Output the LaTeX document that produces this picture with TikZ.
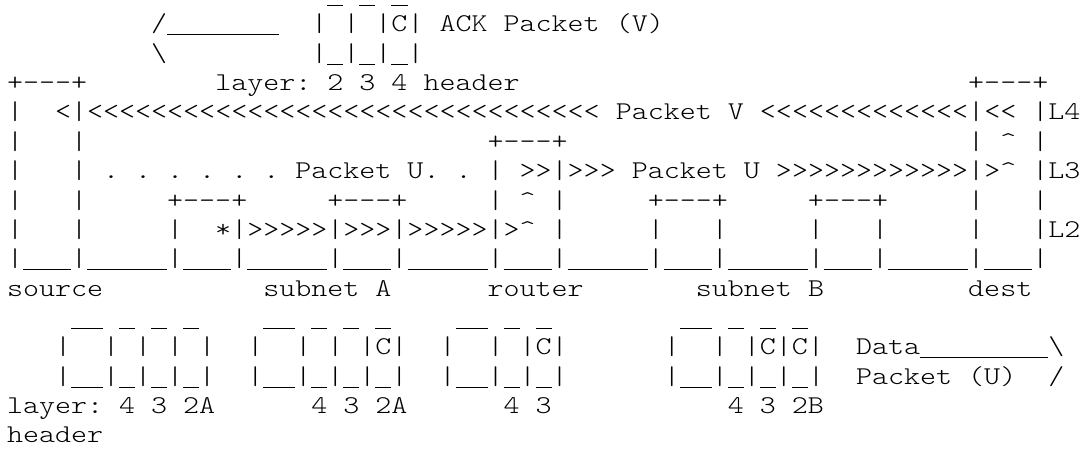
\documentclass[tikz,border=0pt]{standalone}
\usepackage{fontspec}
\newfontfamily\asciifont{lmmonolt10-regular.otf}[FakeStretch=1.192]
\usepackage{tikz}
\usetikzlibrary{math}
\tikzset{%
  ascii/.style={anchor=base west, inner sep=0pt, outer sep=0pt,
    font=\asciifont\fontsize{12.8pt}{16pt}\selectfont\frenchspacing}
}
% n blank columns of the monospaced grid
\newcommand*{\gap}[1]{\hspace*{#1\fontcharwd\font`M}}
% one underscore cell, drawn full width
\newcommand*{\us}{\rule[-1.7pt]{\fontcharwd\font`M}{0.5pt}}

\begin{document}
\begin{tikzpicture}[x=0.5pt,y=-0.5pt]
    \tikzmath{
      \cw=16.02;% column width
      \lh=29.36;% line height
      \xo=7;% left margin
      \yo=2.5;% first baseline
    }
    \useasboundingbox (0,0) rectangle (1087,450);
    % ACK packet (V).
    \node[ascii] (ackTop) at (\xo+20*\cw,\yo) {\us~\us~\us};
    \node[ascii] (ackMid) at (\xo+9*\cw,\yo+\lh) {/\us\us\us\us\us\us\us~~|~|~|C|~ACK~Packet~(V)};
    \node[ascii] (ackBot) at (\xo+9*\cw,\yo+2*\lh) {\textbackslash\gap{9}|\us|\us|\us|};
    % Hosts, subnets and router.
    \node[ascii] (row4) at (\xo,\yo+3*\lh) {+---+\gap{8}layer:~2~3~4~header\gap{28}+---+};
    \node[ascii] (row5) at (\xo,\yo+4*\lh) {|~~<|<<<<<<<<<<<<<<<<<<<<<<<<<<<<<<<<~Packet~V~<<<<<<<<<<<<<|<<~|L4};
    \node[ascii] (row6) at (\xo,\yo+5*\lh) {|~~~|\gap{25}+---+\gap{25}|~\textasciicircum~|};
    \node[ascii] (row7) at (\xo,\yo+6*\lh) {|~~~|~.~.~.~.~.~.~Packet~U.~.~|~>>|>>>~Packet~U~>>>>>>>>>>>>|>\textasciicircum~|L3};
    \node[ascii] (row8) at (\xo,\yo+7*\lh) {|~~~|\gap{5}+---+\gap{5}+---+\gap{5}|~\textasciicircum~|\gap{5}+---+\gap{5}+---+\gap{5}|~~~|};
    \node[ascii] (row9) at (\xo,\yo+8*\lh) {|~~~|\gap{5}|~~*|>>>>>|>>>|>>>>>|>\textasciicircum~|\gap{5}|~~~|\gap{5}|~~~|\gap{5}|~~~|L2};
    \node[ascii] (row10) at (\xo,\yo+9*\lh) {\foreach \k in {1,...,6}{|\us\us\us|\us\us\us\us\us}|\us\us\us|};
    \node[ascii] (names) at (\xo,\yo+10*\lh) {source\gap{10}subnet~A\gap{6}router\gap{7}subnet~B\gap{9}dest};
    % Data packets (U) per hop.
    \node[ascii] (dataTop) at (\xo+4*\cw,\yo+11*\lh) {\us\us~\us~\us~\us\gap{4}\us\us~\us~\us~\us\gap{4}\us\us~\us~\us\gap{8}\us\us~\us~\us~\us};
    \node[ascii] (dataMid) at (\xo+3*\cw,\yo+12*\lh) {|~~|~|~|~|\gap{2}|~~|~|~|C|\gap{2}|~~|~|C|\gap{6}|~~|~|C|C|\gap{2}Data\us\us\us\us\us\us\us\us\textbackslash};
    \node[ascii] (dataBot) at (\xo+3*\cw,\yo+13*\lh) {|\us\us|\us|\us|\us|\gap{2}|\us\us|\us|\us|\us|\gap{2}|\us\us|\us|\us|\gap{6}|\us\us|\us|\us|\us|\gap{2}Packet~(U)~~/};
    \node[ascii] (layers) at (\xo,\yo+14*\lh) {layer:~4~3~2A\gap{6}4~3~2A\gap{6}4~3\gap{11}4~3~2B};
    \node[ascii] (hdr) at (\xo,\yo+15*\lh) {header};
\end{tikzpicture}
\end{document}
